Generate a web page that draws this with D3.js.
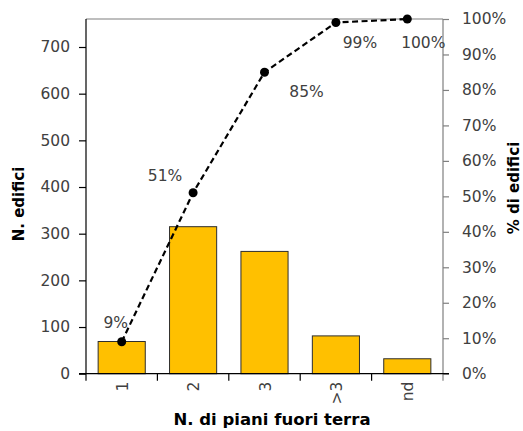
<!DOCTYPE html>
<html>
<head>
<meta charset="utf-8">
<script src="https://cdn.jsdelivr.net/npm/d3@7/dist/d3.min.js"></script>
<style>
  html, body { margin: 0; padding: 0; background: #fff; }
  svg { display: block; font-family: "DejaVu Sans", Verdana, sans-serif; }
</style>
</head>
<body>
<svg id="chart" width="523" height="431"></svg>
<script>
// Building counts by number of above-ground floors, with cumulative share
const categories = ["1", "2", "3", ">3", "nd"];
const counts = [69, 315, 262, 81, 32];
const cumulative = [0.09, 0.51, 0.85, 0.99, 1.00];
const cumulativeLabels = ["9%", "51%", "85%", "99%", "100%"];
const countTicks = [0, 100, 200, 300, 400, 500, 600, 700];
const percentTicks = [0, 0.1, 0.2, 0.3, 0.4, 0.5, 0.6, 0.7, 0.8, 0.9, 1.0];
const countMax = 760;

const svg = d3.select("#chart");
const plotLeft = 86, plotRight = 443, plotTop = 19, plotBottom = 373.7;

const x = d3.scaleBand().domain(categories).range([plotLeft, plotRight]).paddingInner(0.34).paddingOuter(0.17);
const xEdge = d3.scaleBand().domain(categories).range([plotLeft, plotRight]);
const y = d3.scaleLinear().domain([0, countMax]).range([plotBottom, plotTop]);
const yp = d3.scaleLinear().domain([0, 1]).range([plotBottom, plotTop]);

const textCol = "#404040";

// top border
svg.append("line").attr("x1", plotLeft).attr("x2", plotRight).attr("y1", plotTop).attr("y2", plotTop)
  .attr("stroke", "#7f7f7f").attr("stroke-width", 1.2);

// bars
svg.append("g").selectAll("rect").data(counts).join("rect")
  .attr("x", (d, i) => x(categories[i]))
  .attr("width", x.bandwidth())
  .attr("y", d => y(d))
  .attr("height", d => plotBottom - y(d))
  .attr("fill", "#FFC000")
  .attr("stroke", "#2e2e2e")
  .attr("stroke-width", 1);

// left axis
const yAxis = svg.append("g").attr("transform", `translate(${plotLeft},0)`)
  .call(d3.axisLeft(y).tickValues(countTicks).tickSize(7).tickPadding(9).tickSizeOuter(0));
yAxis.select(".domain").attr("stroke", "#000").attr("stroke-width", 1.2)
  .attr("d", `M0,${plotTop}V${plotBottom + 7}`);
yAxis.selectAll(".tick line").attr("stroke", "#000").attr("stroke-width", 1.2);
yAxis.selectAll(".tick text").attr("fill", textCol).style("font-size", "15.5px")
  .style("font-family", "DejaVu Sans, sans-serif");

// right axis
const ypAxis = svg.append("g").attr("transform", `translate(${plotRight},0)`)
  .call(d3.axisRight(yp).tickValues(percentTicks).tickFormat(d3.format(".0%"))
    .tickSize(6).tickPadding(13).tickSizeOuter(0));
ypAxis.select(".domain").attr("stroke", "#7f7f7f").attr("stroke-width", 1.2)
  .attr("d", `M0,${plotTop}V${plotBottom + 7}`);
ypAxis.selectAll(".tick line").attr("stroke", "#7f7f7f").attr("stroke-width", 1.2);
ypAxis.selectAll(".tick text").attr("fill", textCol).style("font-size", "15.5px")
  .style("font-family", "DejaVu Sans, sans-serif");

// bottom axis line
svg.append("line").attr("x1", plotLeft - 7).attr("x2", plotRight + 6).attr("y1", plotBottom).attr("y2", plotBottom)
  .attr("stroke", "#000").attr("stroke-width", 1.2);
// category separators
svg.append("g").selectAll("line").data(categories.slice(1)).join("line")
  .attr("x1", d => xEdge(d)).attr("x2", d => xEdge(d))
  .attr("y1", plotBottom).attr("y2", plotBottom + 7)
  .attr("stroke", "#000").attr("stroke-width", 1.2);
// category labels
svg.append("g").selectAll("text").data(categories).join("text")
  .attr("transform", d => `translate(${x(d) + x.bandwidth() / 2 + 6},${plotBottom + 8}) rotate(-90)`)
  .attr("text-anchor", "end")
  .attr("fill", textCol)
  .style("font-size", "15.5px")
  .text(d => d);

// cumulative line
const px = (d, i) => x(categories[i]) + x.bandwidth() / 2;
svg.append("path")
  .datum(cumulative)
  .attr("d", d3.line().x(px).y(d => yp(d)))
  .attr("fill", "none").attr("stroke", "#000").attr("stroke-width", 2.2)
  .attr("stroke-dasharray", "6,3.5");
svg.append("g").selectAll("circle").data(cumulative).join("circle")
  .attr("cx", px).attr("cy", d => yp(d)).attr("r", 4.5).attr("fill", "#000");

// value labels
const labelOffsets = [[-6, -14], [-28, -12], [42, 25], [24, 25], [16, 29]];
svg.append("g").selectAll("text").data(cumulative).join("text")
  .attr("x", (d, i) => px(d, i) + labelOffsets[i][0])
  .attr("y", (d, i) => yp(d) + labelOffsets[i][1])
  .attr("text-anchor", "middle")
  .attr("fill", textCol)
  .style("font-size", "15.5px")
  .text((d, i) => cumulativeLabels[i]);

// axis titles
svg.append("text")
  .attr("transform", `translate(24,204) rotate(-90)`)
  .attr("text-anchor", "middle")
  .attr("fill", "#000").style("font-weight", "bold").style("font-size", "15px")
  .text("N. edifici");
svg.append("text")
  .attr("transform", `translate(519,188) rotate(-90)`)
  .attr("text-anchor", "middle")
  .attr("fill", "#000").style("font-weight", "bold").style("font-size", "15px")
  .text("% di edifici");
svg.append("text")
  .attr("x", 272).attr("y", 425)
  .attr("text-anchor", "middle")
  .attr("fill", "#000").style("font-weight", "bold").style("font-size", "16.5px")
  .text("N. di piani fuori terra");
</script>
</body>
</html>
